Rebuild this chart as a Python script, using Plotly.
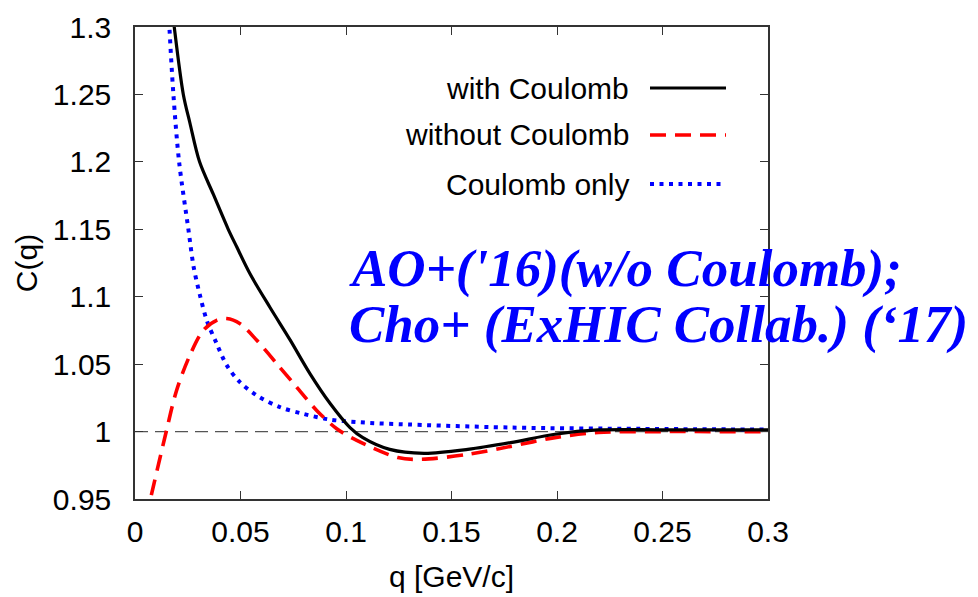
import plotly.graph_objects as go

# ---- data ----
q_with = [0.0165, 0.0186, 0.0229, 0.0260, 0.0306, 0.0371, 0.0442, 0.0482, 0.0545, 0.0640,
          0.0735, 0.0829, 0.0924, 0.1019, 0.1080, 0.1207, 0.1370, 0.1577, 0.1780, 0.1990,
          0.2195, 0.2500, 0.3000]
c_with = [1.330, 1.300, 1.250, 1.229, 1.200, 1.176, 1.150, 1.137, 1.117, 1.092,
          1.068, 1.043, 1.021, 1.003, 0.9955, 0.9868, 0.9839, 0.9868, 0.9918, 0.9980,
          1.0012, 1.0013, 1.0012]

q_without = [0.0050, 0.0073, 0.0145, 0.0197, 0.0260, 0.0324, 0.0387, 0.0434, 0.0498, 0.0577,
             0.0672, 0.0766, 0.0861, 0.0956, 0.1051, 0.1246, 0.1350, 0.1577, 0.1780, 0.1990,
             0.2195, 0.2500, 0.3000]
c_without = [0.935, 0.950, 0.998, 1.0305, 1.0565, 1.0751, 1.0825, 1.0838, 1.0800, 1.0677,
             1.0503, 1.0330, 1.0157, 1.0021, 0.9935, 0.9807, 0.9794, 0.9831, 0.9890, 0.9955,
             0.9993, 1.0000, 0.9998]

q_only = [0.0150, 0.0163, 0.0182, 0.0209, 0.0253, 0.0278, 0.0308, 0.0340, 0.0387, 0.0435,
          0.0497, 0.0577, 0.0687, 0.0798, 0.0924, 0.1066, 0.1170, 0.1780, 0.2400, 0.3000]
c_only = [1.340, 1.300, 1.250, 1.200, 1.150, 1.122, 1.101, 1.0825, 1.0652, 1.0491,
          1.0367, 1.0268, 1.0181, 1.0131, 1.0089, 1.0069, 1.0060, 1.0030, 1.0020, 1.0015]

x_ticks = [0, 0.05, 0.1, 0.15, 0.2, 0.25, 0.3]
x_tick_text = ["0", "0.05", "0.1", "0.15", "0.2", "0.25", "0.3"]
y_ticks = [0.95, 1.0, 1.05, 1.1, 1.15, 1.2, 1.25, 1.3]
y_tick_text = ["0.95", "1", "1.05", "1.1", "1.15", "1.2", "1.25", "1.3"]

legend_names = ["with Coulomb", "without Coulomb", "Coulomb only"]
note_lines = ["AO+('16)(w/o Coulomb);", "Cho+ (ExHIC Collab.) (\u201817)"]

# ---- layout geometry (pixels) ----
W, H = 978, 597
L, R, T, B = 135, 768, 27, 499


def px(x):
    return (x - L) / (R - L)


def py(y):
    return (B - y) / (B - T)


styles = [
    dict(color="black", width=3.2, dash="solid"),
    dict(color="#ff0000", width=3.6, dash="16px,9px"),
    dict(color="#0000ff", width=4.0, dash="4px,5.5px"),
]

fig = go.Figure()
fig.add_hline(y=1.0, line=dict(color="#555555", width=1.2, dash="13px,7px"), layer="below")

for (qq, cc), name, st in zip([(q_only, c_only), (q_without, c_without), (q_with, c_with)],
                              legend_names[::-1], styles[::-1]):
    fig.add_trace(go.Scatter(x=qq, y=cc, mode="lines", name=name,
                             line=dict(color=st["color"], width=st["width"], dash=st["dash"],
                                       shape="spline", smoothing=0.9),
                             showlegend=False))

axis_font = dict(family="Liberation Sans, Arial, sans-serif", size=30, color="black")

fig.update_xaxes(range=[0, 0.3], tickvals=x_ticks, ticktext=x_tick_text,
                 ticks="inside", ticklen=8, tickwidth=1.2, tickcolor="#333",
                 showline=True, linecolor="#333", linewidth=1.5, mirror="ticks",
                 showgrid=False, zeroline=False, tickfont=axis_font,
                 ticklabelstandoff=5, automargin=False,
                 title=dict(text="q [GeV/c]", font=axis_font, standoff=19))
fig.update_yaxes(range=[0.95, 1.3], tickvals=y_ticks, ticktext=y_tick_text,
                 ticks="inside", ticklen=8, tickwidth=1.2, tickcolor="#333",
                 showline=True, linecolor="#333", linewidth=1.5, mirror="ticks",
                 showgrid=False, zeroline=False, tickfont=axis_font,
                 ticklabelstandoff=16, automargin=False,
                 title=dict(text="C(q)", font=axis_font, standoff=6))

# manual gnuplot-style legend (text right, sample on the right)
leg_y = [88, 135, 184]
for name, st, yy in zip(legend_names, styles, leg_y):
    fig.add_annotation(x=px(631), y=py(yy), xref="paper", yref="paper",
                       text=name, showarrow=False, xanchor="right", yanchor="middle",
                       font=dict(family="Liberation Sans, Arial, sans-serif", size=30,
                                 color="black"))
    fig.add_shape(type="line", xref="paper", yref="paper",
                  x0=px(650), x1=px(726), y0=py(yy), y1=py(yy),
                  line=dict(color=st["color"], width=st["width"], dash=st["dash"]))

note_font = dict(family="Liberation Serif, Times New Roman, serif", size=53, color="#0000ff")
for txt, yy in zip(note_lines, [268, 324]):
    fig.add_annotation(x=px(347), y=py(yy), xref="paper", yref="paper",
                       text="<b><i>" + txt + "</i></b>", showarrow=False,
                       xanchor="left", yanchor="middle", font=note_font)

fig.update_layout(width=W, height=H, autosize=False,
                  margin=dict(l=L, r=W - R, t=T, b=H - B, pad=0, autoexpand=False),
                  paper_bgcolor="white", plot_bgcolor="white",
                  showlegend=False)

fig.write_html("out.html", include_plotlyjs=True, config={"displayModeBar": False})
